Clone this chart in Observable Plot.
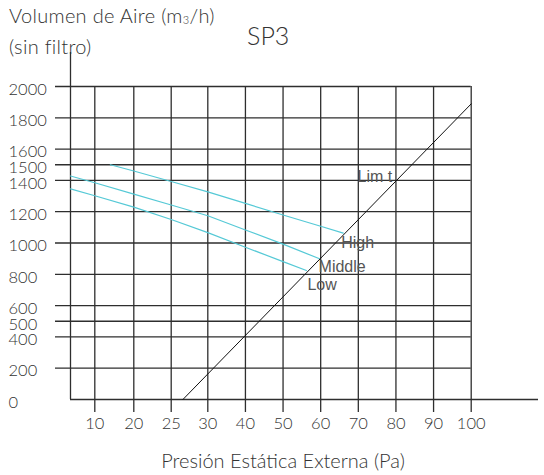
<!DOCTYPE html>
<html>
<head>
<meta charset="utf-8">
<script src="https://cdn.jsdelivr.net/npm/d3@7"></script>
<script src="https://cdn.jsdelivr.net/npm/@observablehq/plot@0.6"></script>
<style>
  html, body { margin: 0; padding: 0; background: #fff; }
  #wrap { position: relative; width: 544px; height: 475px; font-family: Lato, "Open Sans", sans-serif; font-weight: 300; color: #333; }
  #wrap svg { position: absolute; left: 0; top: 0; }
  .t { position: absolute; white-space: nowrap; }
  #ytitle { left: 9px; top: 2px; font-size: 20px; line-height: 26px; letter-spacing: 0.3px; }
  #ytitle sub { font-size: 11px; vertical-align: -1px; }
  #sp3 { left: 247px; top: 23px; font-size: 25px; line-height: 25px; }
  #xtitle { left: 0; width: 566px; text-align: center; top: 448px; font-size: 20px; line-height: 24px; }
</style>
</head>
<body>
<div id="wrap">
  <div class="t" id="ytitle">Volumen de Aire (m<sub>3</sub>/h)<br>(sin filtro)</div>
  <div class="t" id="sp3">SP3</div>
  <div class="t" id="xtitle">Presión Estática Externa (Pa)</div>
</div>
<script>
// Axis ticks: pressure (Pa) and air volume (m3/h)
const xTicks = [10, 20, 25, 30, 40, 50, 60, 70, 80, 90, 100];
const yTicks = [0, 200, 400, 500, 600, 800, 1000, 1200, 1400, 1500, 1600, 1800, 2000];

// Fan curves: pressure (Pa) vs air volume (m3/h)
const highPa  = [14, 20, 25, 30, 40, 50, 60, 66];
const highVol = [1500, 1460, 1393, 1327, 1253, 1179, 1107, 1063];
const midPa   = [0, 10, 20, 25, 30, 40, 50, 59.7];
const midVol  = [1428, 1385, 1312, 1243, 1174, 1083, 993, 899];
const lowPa   = [0, 10, 20, 25, 30, 40, 50, 56.2];
const lowVol  = [1346, 1302, 1229, 1150, 1066, 973, 881, 824];

// Limit line
const limitPa  = [26.6, 100];
const limitVol = [0, 1889];

const series = [
  {name: "High",   pa: highPa, vol: highVol},
  {name: "Middle", pa: midPa,  vol: midVol},
  {name: "Low",    pa: lowPa,  vol: lowVol}
];
const curves = series.flatMap(s => s.pa.map((p, i) => ({name: s.name, pa: p, vol: s.vol[i]})));
const ends = series.map(s => ({name: s.name, pa: s.pa[s.pa.length - 1], vol: s.vol[s.vol.length - 1]}));
const limit = limitPa.map((p, i) => ({pa: p, vol: limitVol[i]}));

const labelOffset = {High: [-2, 9.5], Middle: [-1, 8], Low: [1, 14]};
const grid = "#2e2e2e";
const cyan = "#55c9d6";
const labelFont = "'Liberation Sans', Arial, sans-serif";

const chart = Plot.plot({
  width: 544,
  height: 475,
  marginTop: 86,
  marginBottom: 76,
  marginLeft: 70,
  marginRight: 73.3,
  style: {fontFamily: "Lato, 'Open Sans', sans-serif", fontSize: "16px", fontWeight: 300, color: "#333", background: "transparent"},
  x: {axis: null, type: "linear", domain: [0, 10, 20, 25, 30, 100], range: [70, 94.3, 133.3, 170.7, 207.3, 470.7]},
  y: {axis: null, domain: [0, 2000]},
  marks: [
    Plot.ruleY(yTicks.filter(d => d > 0), {y: d => d, stroke: grid, strokeWidth: 1.3, insetLeft: -15}),
    Plot.ruleY([0], {y: d => d, stroke: grid, strokeWidth: 1.3, insetRight: -67.3}),
    Plot.ruleX(xTicks, {x: d => d, stroke: grid, strokeWidth: 1.3, insetBottom: -13}),
    Plot.ruleX([0], {x: d => d, stroke: grid, strokeWidth: 1.3, insetTop: -34}),
    Plot.line(curves, {x: "pa", y: "vol", z: "name", stroke: cyan, strokeWidth: 1.2}),
    Plot.line(limit, {x: "pa", y: "vol", stroke: "#111", strokeWidth: 1}),
    Plot.text(yTicks, {y: d => d, frameAnchor: "left", textAnchor: "start", dx: -62, dy: 3, text: d => String(d), fill: "#333", fontSize: 16.5}),
    Plot.text(xTicks, {x: d => d, frameAnchor: "bottom", dy: 29, text: d => String(d), fill: "#333", fontSize: 16.5}),
    ...ends.map(e => Plot.text([e], {x: "pa", y: "vol", text: "name", textAnchor: "start",
      dx: labelOffset[e.name][0], dy: labelOffset[e.name][1],
      fontFamily: labelFont, fontWeight: 400, fontSize: 16, fill: "#555"})),
    Plot.text([limit[1]], {x: "pa", y: "vol", text: () => "Lim t", textAnchor: "end", dx: -79, dy: 73,
      fontFamily: labelFont, fontWeight: 400, fontSize: 16, fill: "#555"})
  ]
});
document.getElementById("wrap").prepend(chart);
</script>
</body>
</html>
